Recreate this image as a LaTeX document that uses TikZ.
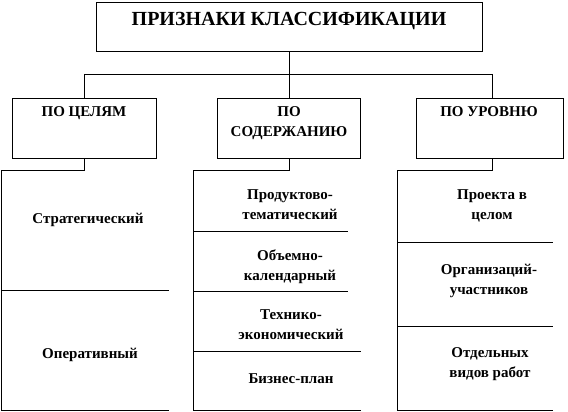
\documentclass[tikz,border=0pt]{standalone}
\usepackage{fontspec}
\setmainfont{Liberation Serif}
\begin{document}
\begin{tikzpicture}[x=1pt,y=-1pt,line width=0.9pt,
  frame/.style={draw,rectangle,inner sep=0pt},
  ttl/.style={font=\bfseries\fontsize{20}{24}\selectfont,inner sep=0pt,anchor=base},
  lbl/.style={font=\bfseries\fontsize{15}{20}\selectfont,align=center,inner sep=0pt},
  wire/.style={draw,line width=0.9pt}]
\useasboundingbox (0,0) rectangle (568,412);
% boxes
\node[frame,minimum width=386pt,minimum height=49pt] (top) at (289,26.5) {};
\node[frame,minimum width=144pt,minimum height=60pt] (goal) at (84,128) {};
\node[frame,minimum width=143pt,minimum height=60pt] (cont) at (289,128) {};
\node[frame,minimum width=147pt,minimum height=60pt] (lvl) at (489.5,128) {};
% box texts
\node[ttl] (ttltext) at (289,25.5) {ПРИЗНАКИ КЛАССИФИКАЦИИ};
\node[lbl,anchor=base] (goaltext) at (84,117) {ПО ЦЕЛЯМ};
\node[lbl] (conttext) at (289,123.3) {ПО\\СОДЕРЖАНИЮ};
\node[lbl,anchor=base] (lvltext) at (489,117) {ПО УРОВНЮ};
% cell texts
\node[lbl,anchor=base] (g1) at (88,223) {Стратегический};
\node[lbl,anchor=base] (g2) at (90,358) {Оперативный};
\node[lbl] (s1) at (290,204.6) {Продуктово-\\тематический};
\node[lbl] (s2) at (290,266.7) {Объемно-\\календарный};
\node[lbl] (s3) at (291,325) {Технико-\\экономический};
\node[lbl,anchor=base] (s4) at (291,383) {Бизнес-план};
\node[lbl] (u1) at (492,205.8) {Проекта в\\целом};
\node[lbl] (u2) at (489,280.5) {Организаций-\\участников};
\node[lbl] (u3) at (490,364.5) {Отдельных\\видов работ};
% bus
\coordinate (busL) at (84,74);
\coordinate (busR) at (492,74);
\draw[wire] (top.south) -- (top.south |- busL);
\draw[wire] (busL) -- (busR);
\draw[wire] (busL) -- (goal.north);
\draw[wire] (cont.north |- busL) -- (cont.north);
\draw[wire] (busR) -- (busR |- lvl.north);
% column 1
\coordinate (g0a) at (84,170);
\coordinate (g0b) at (1.5,170);
\coordinate (g0c) at (1.5,410);
\coordinate (g0d) at (169,410);
\coordinate (g0e) at (1.5,290);
\coordinate (g0f) at (169,290);
\draw[wire] (goal.south) -- (g0a) -- (g0b) -- (g0c) -- (g0d);
\draw[wire] (g0e) -- (g0f);
% column 2
\coordinate (s0a) at (289,170);
\coordinate (s0b) at (193,170);
\coordinate (s0c) at (193,410);
\coordinate (s0d) at (361,410);
\coordinate (s1a) at (193,231);
\coordinate (s1b) at (348,231);
\coordinate (s2a) at (193,291);
\coordinate (s2b) at (348,291);
\coordinate (s3a) at (193,351);
\coordinate (s3b) at (361,351);
\draw[wire] (cont.south) -- (s0a) -- (s0b) -- (s0c) -- (s0d);
\draw[wire] (s1a) -- (s1b);
\draw[wire] (s2a) -- (s2b);
\draw[wire] (s3a) -- (s3b);
% column 3
\coordinate (u0a) at (492,170);
\coordinate (u0b) at (397,170);
\coordinate (u0c) at (397,410);
\coordinate (u0d) at (553,410);
\coordinate (u1a) at (397,242);
\coordinate (u1b) at (553,242);
\coordinate (u2a) at (397,326);
\coordinate (u2b) at (553,326);
\draw[wire] (busR |- lvl.south) -- (u0a) -- (u0b) -- (u0c) -- (u0d);
\draw[wire] (u1a) -- (u1b);
\draw[wire] (u2a) -- (u2b);
\end{tikzpicture}
\end{document}
